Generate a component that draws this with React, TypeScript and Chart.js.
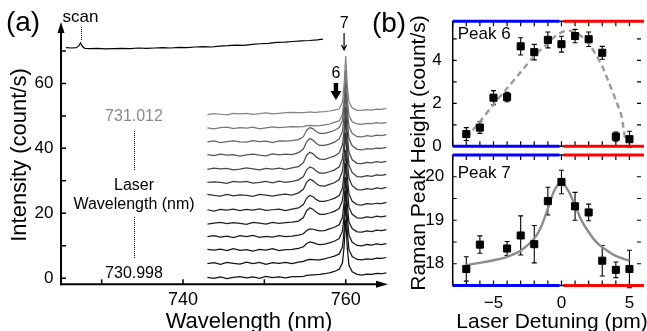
import React, { useEffect, useRef } from 'react';
import { Chart, registerables } from 'chart.js';
Chart.register(...registerables);

const FONT = '"Liberation Sans", Arial, Helvetica, sans-serif';

// ---------- Panel (a): Raman spectra ----------
const wavelengths = [743.0, 743.8, 744.6, 745.4, 746.2, 747.0, 747.8, 748.6, 749.4, 750.2, 751.0, 751.8, 752.6, 753.4,
  754.2, 754.8, 755.2, 755.6, 756.0, 756.4, 756.8, 757.4, 758.0, 758.6, 759.2, 759.6, 759.8, 760.0, 760.2, 760.4,
  760.8, 761.4, 762.0, 762.6, 763.2, 763.8, 764.4, 765.0];
// vertical offsets of the stacked spectra (bottom = 730.998 nm, top = 731.012 nm)
const traceOffsets = [0.2, 4.6, 8.7, 12.8, 16.9, 21.0, 25.5, 29.5, 33.6, 37.9, 42.0, 46.2, 50.5];
const traceColors = ['#111111', '#111111', '#151515', '#1a1a1a', '#202020', '#262626', '#303030', '#3c3c3c',
  '#484848', '#555555', '#666666', '#777777', '#858585'];
const traces: number[][] = [
  [0.1, -0.2, 0.2, -0.3, 0.1, 0.3, -0.1, 0.2, -0.2, 0.4, 0.0, 0.2, -0.1, 0.3, 0.3, 0.4, 0.7, 0.8, 0.85, 0.9, 1.0, 1.2, 1.5, 1.9, 2.6, 4.5, 9.5, 17.9, 9.0, 3.8, 1.8, 1.0, 0.8, 1.1, 1.0, 1.3, 1.2, 1.5],
  [-0.1, 0.2, -0.3, 0.3, 0.0, -0.2, 0.4, -0.1, 0.3, -0.3, 0.2, 0.0, 0.3, -0.1, 0.4, 0.6, 1.0, 1.2, 1.15, 1.1, 1.1, 1.4, 1.8, 2.2, 2.9, 5.0, 10.0, 18.4, 9.5, 4.2, 2.1, 1.2, 1.1, 1.4, 1.2, 1.6, 1.5, 1.8],
  [0.2, 0.0, 0.3, -0.2, 0.4, -0.1, 0.1, -0.3, 0.2, 0.0, 0.4, -0.2, 0.1, 0.2, 0.5, 1.0, 2.0, 2.5, 2.3, 1.9, 1.7, 1.8, 2.2, 2.7, 3.5, 5.8, 10.5, 18.4, 10.0, 4.6, 2.4, 1.4, 1.3, 1.7, 1.5, 1.9, 1.7, 2.0],
  [0.0, 0.3, -0.1, 0.2, -0.3, 0.3, 0.0, 0.4, -0.2, 0.1, -0.1, 0.3, 0.0, 0.2, 0.5, 0.9, 1.9, 2.4, 2.3, 2.0, 1.8, 1.9, 2.4, 2.9, 3.7, 6.0, 10.5, 18.3, 10.0, 4.5, 2.5, 1.5, 1.4, 1.8, 1.6, 2.0, 1.9, 2.2],
  [-0.2, 0.1, 0.3, -0.1, 0.2, 0.0, -0.3, 0.3, 0.1, -0.2, 0.3, 0.0, 0.2, 0.4, 0.7, 1.8, 3.9, 4.8, 4.3, 3.4, 2.8, 2.8, 3.2, 3.7, 4.6, 7.0, 11.5, 18.6, 10.5, 5.0, 2.8, 1.7, 1.6, 2.0, 1.8, 2.2, 2.0, 2.3],
  [0.1, -0.3, 0.2, 0.0, 0.3, -0.2, 0.2, 0.0, 0.4, -0.1, 0.1, 0.3, -0.2, 0.3, 0.7, 1.7, 3.7, 4.5, 4.1, 3.2, 2.7, 2.7, 3.1, 3.6, 4.5, 6.8, 11.3, 18.5, 10.3, 5.0, 2.7, 1.7, 1.5, 2.0, 1.8, 2.1, 2.0, 2.4],
  [0.3, 0.0, -0.2, 0.3, -0.1, 0.2, 0.0, -0.3, 0.3, 0.1, -0.2, 0.2, 0.4, 0.1, 0.8, 1.9, 4.1, 5.0, 4.5, 3.6, 3.0, 2.9, 3.4, 3.9, 4.9, 7.4, 12.0, 19.4, 11.0, 5.3, 3.0, 1.8, 1.7, 2.1, 1.9, 2.3, 2.1, 2.5],
  [0.0, 0.2, 0.0, -0.3, 0.3, 0.1, 0.3, -0.2, 0.0, 0.3, -0.1, 0.4, 0.0, 0.3, 0.8, 1.8, 3.9, 4.8, 4.4, 3.5, 2.9, 2.9, 3.3, 3.8, 4.8, 7.3, 12.2, 19.9, 11.2, 5.4, 3.0, 1.8, 1.7, 2.1, 1.9, 2.3, 2.2, 2.5],
  [-0.1, 0.3, 0.1, 0.2, -0.2, 0.0, 0.4, 0.1, -0.2, 0.2, 0.0, 0.3, -0.1, 0.4, 0.8, 2.0, 4.3, 5.2, 4.7, 3.7, 3.1, 3.0, 3.5, 4.0, 5.0, 7.5, 11.9, 19.3, 10.8, 5.2, 2.9, 1.8, 1.7, 2.1, 1.9, 2.3, 2.1, 2.4],
  [0.2, -0.1, 0.3, 0.0, 0.2, -0.3, 0.1, 0.3, 0.0, -0.2, 0.4, 0.1, 0.3, 0.2, 0.8, 1.9, 4.2, 5.1, 4.6, 3.6, 3.0, 3.0, 3.4, 4.0, 5.0, 7.4, 11.8, 19.2, 10.7, 5.1, 2.9, 1.8, 1.6, 2.0, 1.9, 2.2, 2.1, 2.4],
  [0.0, 0.3, -0.2, 0.1, 0.3, 0.0, -0.1, 0.4, 0.1, 0.2, -0.2, 0.3, 0.2, 0.4, 0.7, 1.6, 3.6, 4.4, 4.0, 3.1, 2.6, 2.6, 3.0, 3.5, 4.4, 6.6, 10.8, 18.1, 9.9, 4.8, 2.6, 1.6, 1.5, 1.9, 1.7, 2.1, 1.9, 2.2],
  [0.1, -0.2, 0.2, 0.3, -0.1, 0.2, 0.0, 0.3, -0.2, 0.1, 0.4, 0.2, 0.3, 0.5, 0.4, 0.5, 0.8, 0.9, 0.8, 0.7, 0.8, 1.0, 1.3, 1.8, 2.2, 4.2, 9.2, 17.9, 9.0, 4.0, 2.0, 1.3, 1.2, 1.5, 1.4, 1.7, 1.5, 1.8],
  [-0.1, 0.2, 0.0, -0.2, 0.3, 0.1, 0.3, 0.0, 0.2, 0.4, 0.1, 0.3, 0.5, 0.6, 0.5, 0.5, 0.6, 0.7, 0.6, 0.6, 0.7, 0.8, 1.0, 1.3, 1.6, 3.8, 9.0, 17.9, 8.8, 3.8, 1.9, 1.2, 1.2, 1.4, 1.3, 1.6, 1.5, 1.8],
];
const scanWl = [725.6, 726.3, 726.9, 727.2, 727.4, 727.6, 727.9, 728.6, 729.5, 730.5, 731.5, 732.5, 733.5, 734.5,
  735.5, 736.5, 737.5, 738.5, 739.5, 740.5, 741.5, 742.5, 743.5, 744.5, 745.5, 746.5, 747.5, 748.5, 749.5, 750.5,
  751.5, 752.5, 753.5, 754.5, 755.5, 756.5, 757.2];
const scanIntensity = [71.0, 70.9, 71.0, 71.6, 72.5, 71.5, 70.8, 70.7, 70.8, 70.6, 70.7, 70.8, 70.7, 70.9, 70.8,
  70.9, 71.0, 70.9, 71.1, 71.0, 71.2, 71.3, 71.2, 71.5, 71.6, 71.8, 71.7, 72.0, 72.2, 72.3, 72.6, 72.7, 72.9, 73.1,
  73.2, 73.4, 73.6];
const scanPeakWl = 727.4;
const peak6Wl = 758.8;
const peak7Wl = 759.8;
const aXTicks = [730, 740, 750, 760];
const aXLabels = [740, 760];
const aYTicks = [0, 10, 20, 30, 40, 50, 60, 70];
const aYLabels = [0, 20, 40, 60];

// ---------- Panel (b): peak heights vs detuning ----------
const detuning6 = [-7, -6, -5, -4, -3, -2, -1, 0, 1, 2, 3, 4, 5];
const peak6 = [0.57, 0.87, 2.26, 2.29, 4.65, 4.38, 4.95, 4.75, 5.13, 4.98, 4.35, 0.45, 0.33];
const err6 = [0.3, 0.27, 0.33, 0.22, 0.4, 0.36, 0.37, 0.37, 0.31, 0.34, 0.3, 0.21, 0.37];
const fit6x = [-7, -6, -5, -4, -3, -2, -1, -0.5, 0, 0.5, 1, 1.5, 2, 2.5, 3, 3.5, 4, 4.4, 4.55, 4.7];
const fit6y = [0.4, 1.15, 1.95, 2.7, 3.45, 4.2, 4.8, 5.1, 5.3, 5.38, 5.3, 5.1, 4.78, 4.3, 3.72, 2.95, 2.15, 1.45, 0.9, 0.28];

const detuning7 = [-7, -6, -4, -3, -2, -1, 0, 1, 2, 3, 4, 5];
const peak7 = [17.88, 18.44, 18.35, 18.65, 18.45, 19.44, 19.88, 19.32, 19.18, 18.07, 17.86, 17.88];
const err7 = [0.28, 0.2, 0.16, 0.45, 0.43, 0.32, 0.27, 0.32, 0.19, 0.35, 0.18, 0.43];
const fit7x = [-7, -6, -5, -4, -3, -2, -1.5, -1, -0.5, 0, 0.5, 1, 1.5, 2, 2.5, 3, 4, 5];
const fit7y = [17.97, 18.02, 18.08, 18.16, 18.3, 18.58, 18.85, 19.27, 19.7, 19.87, 19.68, 19.34, 18.98, 18.73, 18.52, 18.38, 18.18, 18.07];

const bXTicks = [-8, -7, -6, -5, -4, -3, -2, -1, 0, 1, 2, 3, 4, 5];
const bXLabels = [-5, 0, 5];
const b6YTicks = [0, 1, 2, 3, 4, 5];
const b6YLabels = [0, 2, 4];
const b7YTicks = [17.5, 18, 18.5, 19, 19.5, 20, 20.5];
const b7YLabels = [18, 19, 20];

const W = 647;
const H = 331;

function fmtMinus(v: number) {
  return v < 0 ? '\u2212' + Math.abs(v) : String(v);
}

function text(ctx: CanvasRenderingContext2D, s: string, x: number, y: number, size: number, color = '#000', align: CanvasTextAlign = 'center', rot = 0) {
  ctx.save();
  ctx.font = `${size}px ${FONT}`;
  ctx.fillStyle = color;
  ctx.textAlign = align;
  ctx.textBaseline = 'alphabetic';
  ctx.translate(x, y);
  if (rot) ctx.rotate(rot);
  ctx.fillText(s, 0, 0);
  ctx.restore();
}

function vDotted(ctx: CanvasRenderingContext2D, x: number, y0: number, y1: number) {
  ctx.save();
  ctx.strokeStyle = '#000';
  ctx.lineWidth = 1;
  ctx.setLineDash([1, 1]);
  ctx.beginPath();
  ctx.moveTo(Math.round(x) + 0.5, y0);
  ctx.lineTo(Math.round(x) + 0.5, y1);
  ctx.stroke();
  ctx.restore();
}

const panelAPlugin = {
  id: 'panelA',
  afterDraw(chart: any) {
    const ctx: CanvasRenderingContext2D = chart.ctx;
    const xs = chart.scales.x;
    const ys = chart.scales.y;
    const X = (v: number) => xs.getPixelForValue(v);
    const Y = (v: number) => ys.getPixelForValue(v);
    const a = chart.chartArea;
    ctx.save();
    ctx.strokeStyle = '#000';
    ctx.fillStyle = '#000';
    ctx.lineWidth = 2;
    ctx.beginPath();
    ctx.moveTo(a.left, a.bottom + 1);
    ctx.lineTo(a.left, a.top + 8);
    ctx.stroke();
    ctx.beginPath();
    ctx.moveTo(a.left, a.top);
    ctx.lineTo(a.left - 3.5, a.top + 11);
    ctx.lineTo(a.left + 3.5, a.top + 11);
    ctx.closePath();
    ctx.fill();
    ctx.beginPath();
    ctx.moveTo(a.left - 1, a.bottom);
    ctx.lineTo(a.right - 8, a.bottom);
    ctx.stroke();
    ctx.beginPath();
    ctx.moveTo(a.right, a.bottom);
    ctx.lineTo(a.right - 12, a.bottom - 3.5);
    ctx.lineTo(a.right - 12, a.bottom + 3.5);
    ctx.closePath();
    ctx.fill();
    ctx.lineWidth = 1.5;
    ctx.beginPath();
    aYTicks.forEach((v) => {
      ctx.moveTo(a.left, Y(v));
      ctx.lineTo(a.left + 5, Y(v));
    });
    aXTicks.forEach((v) => {
      ctx.moveTo(X(v), a.bottom);
      ctx.lineTo(X(v), a.bottom - 5);
    });
    ctx.stroke();
    ctx.restore();

    text(ctx, 'scan', X(scanPeakWl), 21.5, 17);
    vDotted(ctx, X(scanPeakWl), 27, 40);
    text(ctx, '731.012', 134, 121, 16, '#8a8a8a');
    vDotted(ctx, 134, 131, 170);
    text(ctx, 'Laser', 134, 190, 16);
    text(ctx, 'Wavelength (nm)', 134, 209, 16);
    vDotted(ctx, 134, 217, 258);
    text(ctx, '730.998', 134, 278, 16);

    const x6 = X(peak6Wl);
    text(ctx, '6', x6, 78, 16);
    ctx.save();
    ctx.fillStyle = '#000';
    ctx.fillRect(x6 - 2.2, 83, 4.4, 9);
    ctx.beginPath();
    ctx.moveTo(x6 - 5.5, 91);
    ctx.lineTo(x6 + 5.5, 91);
    ctx.lineTo(x6, 100);
    ctx.closePath();
    ctx.fill();
    ctx.restore();

    const x7 = X(peak7Wl);
    text(ctx, '7', x7, 28, 16);
    ctx.save();
    ctx.strokeStyle = '#000';
    ctx.lineWidth = 1.2;
    ctx.beginPath();
    ctx.moveTo(x7, 33);
    ctx.lineTo(x7, 50);
    ctx.moveTo(x7 - 2.5, 45);
    ctx.lineTo(x7, 50);
    ctx.lineTo(x7 + 2.5, 45);
    ctx.stroke();
    ctx.restore();

    text(ctx, '(a)', 23, 31, 28);
    text(ctx, '(b)', 389, 32, 28);
    text(ctx, 'Intensity (count/s)', 26, 155, 22, '#000', 'center', -Math.PI / 2);
    text(ctx, 'Wavelength (nm)', 249, 328, 22);
    text(ctx, 'Raman Peak Height (count/s)', 425, 153, 21, '#000', 'center', -Math.PI / 2);
    text(ctx, 'Laser Detuning (pm)', 552, 328, 21);
  },
};

function makePanelBPlugin(yTicks: number[], label: string, labelY: number, pts: number[], vals: number[], errs: number[]) {
  return {
    id: 'panelB',
    beforeDatasetsDraw(chart: any) {
      const ctx: CanvasRenderingContext2D = chart.ctx;
      const xs = chart.scales.x;
      const ys = chart.scales.y;
      ctx.save();
      ctx.strokeStyle = '#000';
      ctx.lineWidth = 1.1;
      ctx.beginPath();
      pts.forEach((x, i) => {
        const px = xs.getPixelForValue(x);
        const y0 = ys.getPixelForValue(vals[i] - errs[i]);
        const y1 = ys.getPixelForValue(vals[i] + errs[i]);
        ctx.moveTo(px, y0);
        ctx.lineTo(px, y1);
        ctx.moveTo(px - 2.5, y0);
        ctx.lineTo(px + 2.5, y0);
        ctx.moveTo(px - 2.5, y1);
        ctx.lineTo(px + 2.5, y1);
      });
      ctx.stroke();
      ctx.restore();
    },
    afterDraw(chart: any) {
      const ctx: CanvasRenderingContext2D = chart.ctx;
      const xs = chart.scales.x;
      const ys = chart.scales.y;
      const a = chart.chartArea;
      ctx.save();
      ctx.strokeStyle = '#000';
      ctx.lineWidth = 1.5;
      ctx.beginPath();
      ctx.moveTo(a.left, a.top);
      ctx.lineTo(a.left, a.bottom);
      ctx.moveTo(a.left, a.top);
      ctx.lineTo(a.right + 3, a.top);
      ctx.moveTo(a.left, a.bottom);
      ctx.lineTo(a.right + 3, a.bottom);
      ctx.stroke();
      ctx.lineWidth = 1.2;
      ctx.beginPath();
      bXTicks.forEach((v) => {
        const px = xs.getPixelForValue(v);
        ctx.moveTo(px, a.top);
        ctx.lineTo(px, a.top + 5);
        ctx.moveTo(px, a.bottom);
        ctx.lineTo(px, a.bottom - 5);
      });
      yTicks.forEach((v) => {
        const py = ys.getPixelForValue(v);
        ctx.moveTo(a.left, py);
        ctx.lineTo(a.left + 4, py);
        ctx.moveTo(a.right, py);
        ctx.lineTo(a.right - 4, py);
      });
      ctx.stroke();
      const x0 = xs.getPixelForValue(0);
      ctx.lineWidth = 3;
      [a.top, a.bottom].forEach((y) => {
        ctx.strokeStyle = '#0000ff';
        ctx.beginPath();
        ctx.moveTo(a.left, y);
        ctx.lineTo(x0 - 2, y);
        ctx.stroke();
        ctx.strokeStyle = '#ff0000';
        ctx.beginPath();
        ctx.moveTo(x0 + 2, y);
        ctx.lineTo(a.right + 3, y);
        ctx.stroke();
      });
      ctx.restore();
      text(ctx, label, a.left + 5, labelY, 17, '#000', 'left');
    },
  };
}

function panelAConfig(): any {
  const datasets: any[] = traces.map((t, i) => ({
    type: 'line',
    data: wavelengths.map((w, j) => ({ x: w, y: t[j] + traceOffsets[i] })),
    borderColor: traceColors[i],
    borderWidth: 1.25,
    pointRadius: 0,
    tension: 0,
    fill: false,
  }));
  datasets.push({
    type: 'line',
    data: scanWl.map((w, j) => ({ x: w, y: scanIntensity[j] })),
    borderColor: '#000',
    borderWidth: 1.2,
    pointRadius: 0,
    tension: 0,
    fill: false,
  });
  return {
    type: 'line',
    data: { datasets },
    options: {
      responsive: false,
      animation: false,
      events: [],
      layout: { padding: { left: 0, top: 22, right: W - 388, bottom: 0 } },
      plugins: { legend: { display: false }, tooltip: { enabled: false } },
      scales: {
        x: {
          type: 'linear',
          min: 725,
          max: 765.2,
          grid: { display: false, drawTicks: false },
          border: { display: false },
          afterBuildTicks: (s: any) => {
            s.ticks = aXLabels.map((v) => ({ value: v }));
          },
          afterFit: (s: any) => {
            s.height = H - 284.3;
          },
          ticks: { padding: 5, color: '#000', autoSkip: false, maxRotation: 0, font: { family: FONT, size: 18 }, callback: (v: any) => String(v) },
        },
        y: {
          type: 'linear',
          min: -1.85,
          max: 78.9,
          grid: { display: false, drawTicks: false },
          border: { display: false },
          afterBuildTicks: (s: any) => {
            s.ticks = aYLabels.map((v) => ({ value: v }));
          },
          afterFit: (s: any) => {
            s.width = 61;
          },
          ticks: { padding: 7.5, color: '#000', autoSkip: false, font: { family: FONT, size: 17 }, callback: (v: any) => String(v) },
        },
      },
    },
    plugins: [panelAPlugin],
  };
}

function panelBConfig(which: 6 | 7): any {
  const top = which === 6;
  const xsData = top ? detuning6 : detuning7;
  const ysData = top ? peak6 : peak7;
  const errs = top ? err6 : err7;
  const fx = top ? fit6x : fit7x;
  const fy = top ? fit6y : fit7y;
  const datasets: any[] = [
    {
      type: 'scatter',
      data: xsData.map((x, i) => ({ x, y: ysData[i] })),
      pointStyle: 'rect',
      pointRadius: 5,
      backgroundColor: '#000',
      borderColor: '#000',
      borderWidth: 1,
      showLine: false,
      order: 0,
    },
    {
      type: 'line',
      data: fx.map((x, i) => ({ x, y: fy[i] })),
      borderColor: top ? '#9a9a9a' : '#8c8c8c',
      borderWidth: 2.4,
      borderDash: top ? [6, 4] : [],
      pointRadius: 0,
      tension: 0.3,
      fill: false,
      order: 1,
    },
  ];
  const areaTop = top ? 16 : 155;
  const areaBottom = top ? 146.3 : 285.5;
  return {
    type: 'scatter',
    data: { datasets },
    options: {
      responsive: false,
      animation: false,
      events: [],
      layout: { padding: { left: 402.7, top: areaTop, right: 0, bottom: top ? H - areaBottom : 0 } },
      plugins: { legend: { display: false }, tooltip: { enabled: false } },
      scales: {
        x: {
          type: 'linear',
          display: !top,
          min: -8,
          max: 5.85,
          grid: { display: false, drawTicks: false },
          border: { display: false },
          afterBuildTicks: (s: any) => {
            s.ticks = bXLabels.map((v) => ({ value: v }));
          },
          afterFit: (s: any) => {
            s.height = top ? 0 : H - areaBottom;
          },
          ticks: { padding: 8, color: '#000', autoSkip: false, maxRotation: 0, font: { family: FONT, size: 17 }, callback: (v: any) => fmtMinus(Number(v)) },
        },
        y: {
          type: 'linear',
          min: top ? 0 : 17.5,
          max: top ? 5.82 : 20.5,
          grid: { display: false, drawTicks: false },
          border: { display: false },
          afterBuildTicks: (s: any) => {
            s.ticks = (top ? b6YLabels : b7YLabels).map((v) => ({ value: v }));
          },
          afterFit: (s: any) => {
            s.width = 50;
          },
          ticks: { padding: top ? 11 : 8.5, color: '#000', autoSkip: false, font: { family: FONT, size: 17 }, callback: (v: any) => String(v) },
        },
      },
    },
    plugins: [makePanelBPlugin(top ? b6YTicks : b7YTicks, top ? 'Peak 6' : 'Peak 7', top ? 39 : 178, xsData, ysData, errs)],
  };
}

export default function App() {
  const refA = useRef<HTMLCanvasElement>(null);
  const refB6 = useRef<HTMLCanvasElement>(null);
  const refB7 = useRef<HTMLCanvasElement>(null);

  useEffect(() => {
    const charts: Chart[] = [];
    if (refA.current) charts.push(new Chart(refA.current, panelAConfig()));
    if (refB6.current) charts.push(new Chart(refB6.current, panelBConfig(6)));
    if (refB7.current) charts.push(new Chart(refB7.current, panelBConfig(7)));
    return () => charts.forEach((c) => c.destroy());
  }, []);

  const cs: React.CSSProperties = { position: 'absolute', left: 0, top: 0, width: W, height: H };
  return (
    <div style={{ position: 'fixed', left: 0, top: 0, width: W, height: H, background: '#fff', overflow: 'hidden' }}>
      <canvas ref={refA} width={W} height={H} style={cs} />
      <canvas ref={refB6} width={W} height={H} style={cs} />
      <canvas ref={refB7} width={W} height={H} style={cs} />
    </div>
  );
}
